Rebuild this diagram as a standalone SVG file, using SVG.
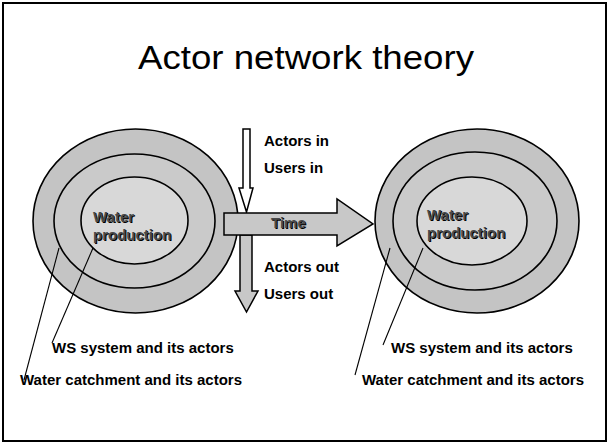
<svg xmlns="http://www.w3.org/2000/svg" width="609" height="445" viewBox="0 0 609 445">
<style>
.lbl{font-family:"Liberation Sans",Arial,sans-serif;font-weight:bold;font-size:15px;fill:#000}
.emb{font-family:"Liberation Sans",Arial,sans-serif;font-weight:bold;font-size:15px}
.sh{fill:#000}
.fg{fill:#4a4a4a}
.ring{stroke:#000;stroke-width:1.6}
.o{fill:#c4c4c4}
.m{fill:#cacaca}
.i{fill:#d8d8d8}
.arr{stroke:#000;stroke-width:1.5;stroke-linejoin:miter}
.lead{stroke:#000;stroke-width:1.1;fill:none}
</style>
<rect x="0" y="0" width="609" height="445" fill="#fff"/>
<rect x="3" y="3" width="603" height="438" fill="none" stroke="#000" stroke-width="2"/>
<g id="title">
<text x="306" y="69" text-anchor="middle" font-family="'Liberation Sans',Arial,sans-serif" font-size="34" textLength="336" lengthAdjust="spacingAndGlyphs">Actor network theory</text>
</g>
<g id="left-system">
<ellipse class="ring o" cx="135.5" cy="221" rx="102.5" ry="92"/>
<ellipse class="ring m" cx="134.5" cy="221" rx="80.5" ry="67"/>
<ellipse class="ring i" cx="134.5" cy="220.5" rx="53.5" ry="43.5"/>
<text class="emb sh" x="94" y="223">Water</text>
<text class="emb fg" x="93" y="222">Water</text>
<text class="emb sh" x="94" y="241">production</text>
<text class="emb fg" x="93" y="240">production</text>
</g>
<g id="right-system">
<ellipse class="ring o" cx="477" cy="221" rx="102" ry="92"/>
<ellipse class="ring m" cx="475" cy="221" rx="82" ry="69"/>
<ellipse class="ring i" cx="472" cy="221" rx="55" ry="44"/>
<text class="emb sh" x="428" y="221">Water</text>
<text class="emb fg" x="427" y="220">Water</text>
<text class="emb sh" x="428" y="239">production</text>
<text class="emb fg" x="427" y="238">production</text>
</g>
<g id="in-arrow">
<polygon class="arr" fill="#fff" points="243,129 250,129 250,188 253,188 246.5,212 239,188 243,188"/>
</g>
<g id="out-arrow">
<polygon class="arr" fill="#c8c8c8" points="240,235 252,235 252,291 258,291 246.5,312 235,291 240,291"/>
</g>
<g id="time-arrow">
<polygon class="arr" fill="#c8c8c8" points="224,213 337,213 337,199 373,224 337,246 337,235 224,235"/>
<text class="emb sh" x="272" y="229">Time</text>
<text class="emb fg" x="271" y="228">Time</text>
</g>
<g id="flow-labels">
<text class="lbl" x="264" y="146">Actors in</text>
<text class="lbl" x="264" y="173">Users in</text>
<text class="lbl" x="264" y="272">Actors out</text>
<text class="lbl" x="264" y="299">Users out</text>
</g>
<g id="connectors">
<line class="lead" x1="59" y1="248" x2="24" y2="380"/>
<line class="lead" x1="93" y1="248" x2="52" y2="343"/>
<line class="lead" x1="390" y1="248" x2="355" y2="375"/>
<line class="lead" x1="423" y1="248" x2="383" y2="345"/>
</g>
<g id="left-labels">
<text class="lbl" x="52" y="353">WS system and its actors</text>
<text class="lbl" x="20" y="385">Water catchment and its actors</text>
</g>
<g id="right-labels">
<text class="lbl" x="391" y="353">WS system and its actors</text>
<text class="lbl" x="362" y="385">Water catchment and its actors</text>
</g>
</svg>
